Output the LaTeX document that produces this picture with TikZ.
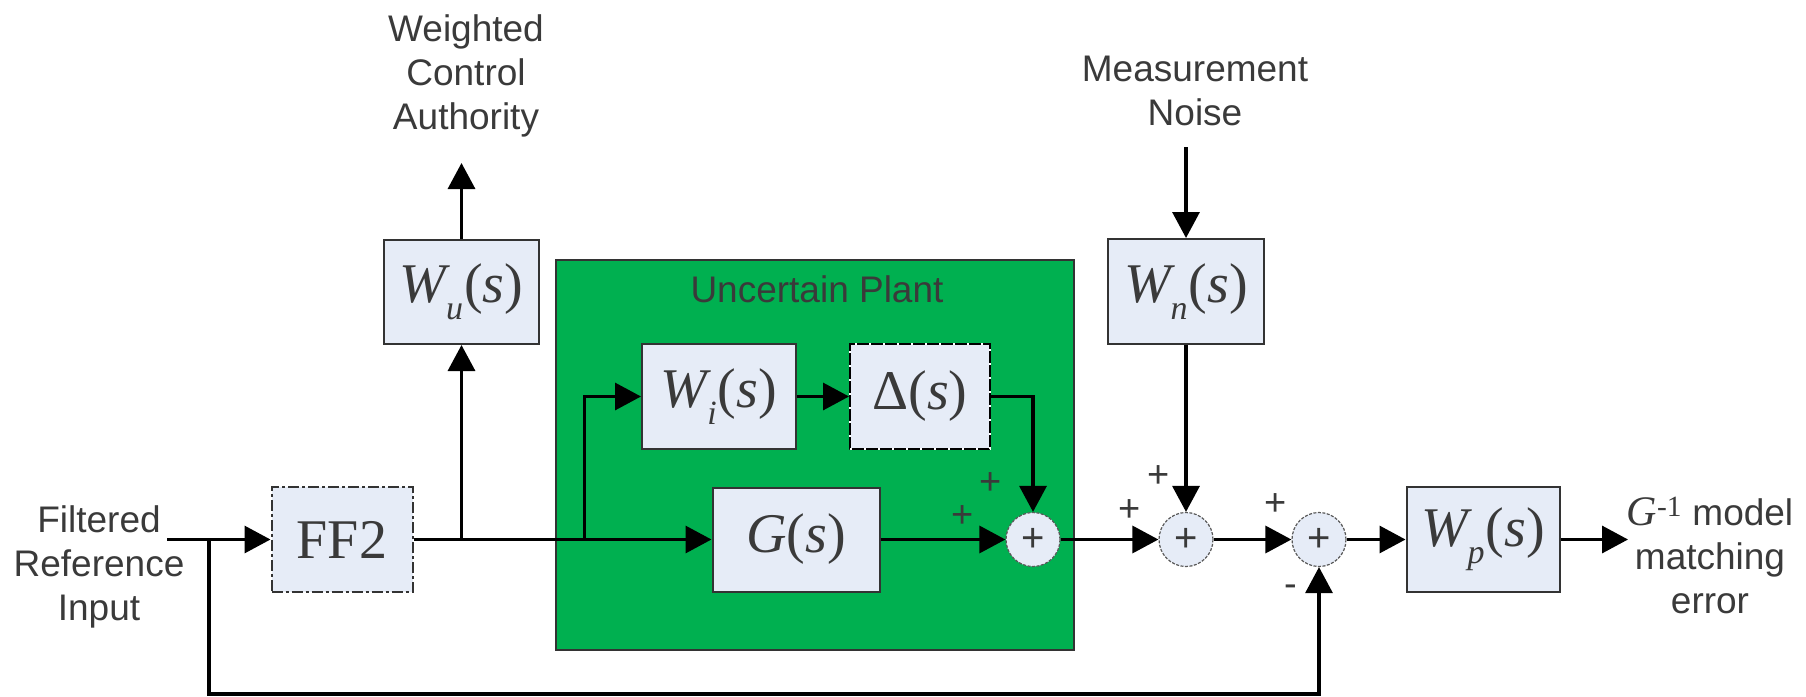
\documentclass[tikz,border=0pt]{standalone}
\usepackage{fontspec}
\setmainfont{Liberation Sans}
\newfontfamily\serf{Liberation Serif}
\usetikzlibrary{arrows.meta}
\definecolor{boxfill}{HTML}{E6ECF7}
\definecolor{plantgreen}{HTML}{00B050}
\definecolor{txtgrey}{HTML}{3A3A3A}
\definecolor{edgegrey}{HTML}{333333}
\newcommand{\tfW}[1]{\textit{W}\kern-0.08em\raisebox{-0.3em}{\fontsize{34}{34}\selectfont\textit{#1}}\kern0.02em(\textit{s})}
\begin{document}
\begin{tikzpicture}[x=1pt,y=-1pt,
  conn/.style={line width=3.3pt,-{Triangle[length=26pt,width=27pt]}},
  blk/.style={draw=edgegrey,line width=2pt,fill=boxfill,inner sep=0pt,
    font=\serf\fontsize{56}{60}\selectfont,text=txtgrey},
  ffbox/.style={blk,dash pattern=on 11pt off 3pt on 3pt off 3pt},
  dbox/.style={blk,draw=black,postaction={draw=white,line width=2pt,dash pattern=on 2pt off 12pt}},
  sumc/.style={circle,draw=black!65,line width=1.2pt,dash pattern=on 3pt off 1.5pt,
    fill=boxfill,minimum size=54pt,inner sep=0pt,font=\fontsize{40}{40}\selectfont,text=txtgrey},
  lbl/.style={align=center,inner sep=0pt,font=\fontsize{37}{44}\selectfont,text=txtgrey},
  sgn/.style={inner sep=0pt,font=\fontsize{38}{38}\selectfont,text=txtgrey},
  plantbox/.style={draw=edgegrey,line width=2pt,fill=plantgreen,inner sep=0pt}
]
\useasboundingbox (0,0) rectangle (1806,696);

% uncertain plant background
\node[plantbox,minimum width=518pt,minimum height=390pt] (plant) at (815,455) {};
\node[lbl,anchor=base] (ptitle) at (817,302) {Uncertain Plant};

% blocks
\node[ffbox,minimum width=141pt,minimum height=105pt] (ff2) at (342,539.5) {FF2};
\node[blk,minimum width=155pt,minimum height=104pt] (wu) at (461.5,292) {\tfW{u}};
\node[blk,minimum width=154pt,minimum height=105pt] (wi) at (719,396.5) {\tfW{i}};
\node[dbox,minimum width=140pt,minimum height=105pt] (dl) at (920,396.5) {Δ(\textit{s})};
\node[blk,minimum width=167pt,minimum height=104pt] (g) at (796,539.5) {\textit{G}(\textit{s})};
\node[blk,minimum width=156pt,minimum height=105pt] (wn) at (1186,291.5) {\tfW{n}};
\node[blk,minimum width=153pt,minimum height=105pt] (wp) at (1483,539.5) {\tfW{p}};

% summing junctions
\node[sumc] (s1) at (1033,539.5) {+};
\node[sumc] (s2) at (1186,539.5) {+};
\node[sumc] (s3) at (1319,539.5) {+};

% signs
\node[sgn] (p1) at (991,484) {+};
\node[sgn] (p2) at (963,517) {+};
\node[sgn] (p3) at (1159,477) {+};
\node[sgn] (p4) at (1130,511) {+};
\node[sgn] (p5) at (1276,505) {+};
\node[sgn] (m6) at (1291,591) {-};

% external labels
\node[lbl] (tin) at (99,567) {Filtered\\Reference\\Input};
\node[lbl] (tu) at (466,76) {Weighted\\Control\\Authority};
\node[lbl] (tn) at (1195,91) {Measurement\\Noise};
\node[lbl] (tout) at (1710,555) {{\serf\fontsize{42}{44}\selectfont\textit{G}\textsuperscript{-1}} model\\matching\\error};

% helper coordinates
\coordinate (inp) at (167,539.5);
\coordinate (br1) at (209,539.5);
\coordinate (fb) at (209,694);
\coordinate (br2) at (461.5,539.5);
\coordinate (br3) at (584.6,539.5);
\coordinate (wuo) at (461.5,163);
\coordinate (wni) at (1186,147);
\coordinate (wpo) at (1628,539.5);

% connectors
\draw[conn] (inp) -- (ff2.west);
\draw[conn] (br1) -- (fb) -| (s3.south);
\draw[conn] (ff2.east) -- (g.west);
\draw[conn] (br2) -- (wu.south);
\draw[conn] (wu.north) -- (wuo);
\draw[conn] (br3) |- (wi.west);
\draw[conn] (wi.east) -- (dl.west);
\draw[conn] (dl.east) -| (s1.north);
\draw[conn] (g.east) -- (s1.west);
\draw[conn] (s1.east) -- (s2.west);
\draw[conn] (wni) -- (wn.north);
\draw[conn] (wn.south) -- (s2.north);
\draw[conn] (s2.east) -- (s3.west);
\draw[conn] (s3.east) -- (wp.west);
\draw[conn] (wp.east) -- (wpo);
\end{tikzpicture}
\end{document}
